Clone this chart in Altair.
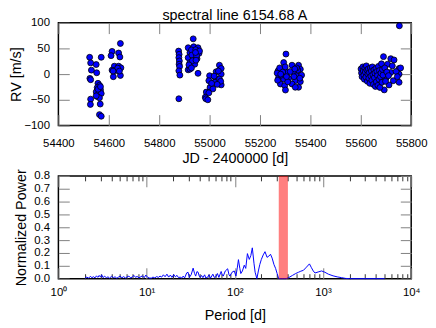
import altair as alt
import pandas as pd

# ---------------- data ----------------
# RV time series (JD - 2400000, RV in m/s)
JD_G1 = [54524, 54528, 54550, 54531, 54552, 54525, 54528, 54570, 54557, 54563,
         54554, 54567, 54550, 54559, 54570, 54554, 54563, 54528, 54527, 54566,
         54563, 54570, 54557, 54567, 54550]
RV_G1 = [32.7, 21.8, 18.6, 7.7, 2.6, -8.3, -10.9, 32.7, -17.9, -21.8,
         -26.3, -30.8, -34.6, -39.1, -37.8, -43.6, -46.2, -48.7, -59.0, -58.3,
         -78.8, -82.0, -29.5, -24.4, -42.3]

JD_G1B = [54646, 54613, 54639, 54609, 54644, 54622, 54639, 54613, 54648, 54618,
          54646, 54629, 54635, 54617, 54642]
RV_G1B = [59.6, 44.2, 41.0, 35.9, 33.3, 15.4, 15.4, 7.7, 12.2, -5.1,
          -2.6, 7.1, 11.5, 5.8, 5.8]

JD_G2 = [54877, 54879, 54878, 54880, 54879, 54881, 54878, 54882, 54878,
         54935, 54915, 54937, 54954, 54922, 54941, 54958, 54915, 54935, 54950,
         54922, 54937, 54925, 54941, 54915, 54922, 54954, 54928, 54945, 54930,
         54948, 54960, 54932, 54946, 54918, 54928, 54944]
RV_G2 = [44.8, 38.5, 32.0, 25.6, 19.2, 14.8, 6.3, -2.0, -48.0,
         68.6, 51.3, 53.2, 51.3, 41.7, 43.0, 40.4, 32.0, 32.0, 30.0,
         22.4, 22.4, 14.7, 19.2, 8.3, 9.6, 1.5, 47.0, 47.5, 37.0,
         36.0, 45.0, 26.0, 27.0, 18.0, 12.0, 42.0]

JD_G2B = [55039, 55046, 55026, 55046, 55000, 55024, 55039, 54997, 55020, 55046,
          55002, 55013, 54987, 54997, 54983, 54985, 54993, 55035, 55044, 55030,
          55008, 55018]
RV_G2B = [17.3, 11.0, 4.5, 0.0, -3.2, -8.3, -9.6, -12.8, -16.0, -21.0,
          -25.6, -28.8, -35.0, -36.5, -44.9, -48.0, -50.0, 6.0, -14.0, -20.0,
          -18.0, -4.0]

JD_G3 = [55303, 55294, 55327, 55353, 55272, 55287, 55307, 55333, 55360, 55346,
         55274, 55294, 55314, 55340, 55360, 55281, 55298, 55327, 55353, 55301,
         55340, 55268, 55278, 55285, 55290, 55300, 55310, 55320, 55335, 55350,
         55365, 55270, 55305, 55345, 55358, 55282, 55338]
RV_G3 = [39.0, 22.5, 17.3, 17.3, 6.4, 9.6, 3.2, 3.2, 9.6, -3.2,
         -6.4, -9.6, -8.0, -12.8, -14.7, -19.2, -22.4, -19.2, -25.6, -31.0,
         -25.6, 2.0, 12.0, -2.0, 4.0, 14.0, -15.0, 5.0, -5.0, 8.0,
         -2.0, -12.0, -5.0, 12.0, -8.0, 0.0, 10.0]

JD_G4 = [55690, 55719, 55732, 55753, 55706, 55725, 55752, 55719, 55752, 55729,
         55752, 55693, 55712, 55700, 55740, 55758, 55745,
         55601, 55603, 55605, 55608, 55610, 55612, 55614, 55616, 55618, 55620,
         55622, 55624, 55626, 55628, 55630, 55632, 55634, 55636, 55638, 55640,
         55642, 55644, 55646, 55648, 55650, 55652, 55654, 55656, 55658, 55660,
         55662, 55664, 55666, 55668, 55670, 55672, 55674, 55676, 55678, 55680,
         55684, 55686, 55688, 55682, 55695, 55698, 55703, 55710]
RV_G4 = [34.0, 30.0, 27.5, 94.0, 19.2, 16.0, 10.9, 3.2, 0.0, -12.8,
         -16.0, -30.7, -21.1, -8.0, 5.0, 12.0, -5.0,
         10.0, 2.0, -5.0, 14.0, 6.0, -2.0, -10.0, 12.0, 4.0, -6.0,
         16.0, 8.0, -14.0, 0.0, 10.0, -8.0, 3.0, -18.0, 12.0, -4.0,
         6.0, -12.0, 14.0, -1.0, -20.0, 8.0, -7.0, 2.0, -24.0, 11.0,
         -15.0, 5.0, -3.0, -22.0, 15.0, -10.0, 7.0, -26.0, -5.0, 2.0,
         -16.0, 9.0, -2.0, 20.0, 12.0, -14.0, 4.0, -3.0]

# periodogram (period in days, normalized power)
PERIOD = [2.0, 2.1, 2.2, 2.3, 2.4, 2.5, 2.6, 2.7, 2.8, 2.9,
          3.0, 3.1, 3.2, 3.35, 3.5, 3.65, 3.8, 4.0, 4.2, 4.4,
          4.6, 4.8, 5.0, 5.25, 5.5, 5.75, 6.0, 6.3, 6.6, 6.9,
          7.2, 7.5, 7.8, 8.2, 8.6, 9.0, 9.4, 9.8, 10.3, 10.8,
          11.3, 11.8, 12.4, 13.0, 13.6, 14.2, 14.8, 15.5, 16.2, 17.0,
          17.8, 18.6, 19.4, 20.3, 21.2, 22.1, 23.0, 24.0, 25.0, 26.0,
          27.0, 28.5, 29.5, 30.5, 32.0, 33.7, 35.0, 36.0, 37.2, 38.4,
          39.5, 40.6, 42.0, 43.5, 45.5, 47.0, 49.0, 51.0, 53.0, 56.4,
          58.5, 61.0, 63.5, 66.0, 70.0, 72.0, 74.0, 78.0, 83.0, 86.0,
          88.0, 93.0, 98.5, 103.0, 107.0, 110.0, 114.0, 117.0, 122.0, 128.0,
          133.0, 139.0, 146.0, 152.0, 158.0, 165.0, 170.0, 178.0, 185.0, 192.0,
          200.0, 210.0, 220.0, 232.0, 243.0, 254.0, 265.0, 278.0, 290.0, 302.0,
          315.0, 335.0, 360.0, 380.0, 408.0, 450.0, 490.0, 528.0, 560.0, 600.0,
          650.0, 702.0, 740.0, 775.0, 812.0, 880.0, 964.0, 1050.0, 1150.0, 1300.0,
          1450.0, 1615.0, 1800.0, 2000.0, 3000.0, 5000.0]
POWER = [0.005, 0.012, 0.004, 0.018, 0.008, 0.015, 0.006, 0.022, 0.010, 0.025,
         0.012, 0.030, 0.008, 0.020, 0.006, 0.015, 0.004, 0.018, 0.009, 0.014,
         0.003, 0.012, 0.020, 0.007, 0.016, 0.005, 0.013, 0.020, 0.006, 0.014,
         0.025, 0.010, 0.018, 0.006, 0.015, 0.022, 0.008, 0.028, 0.010, 0.005,
         0.004, 0.012, 0.006, 0.016, 0.010, 0.020, 0.012, 0.030, 0.015, 0.035,
         0.012, 0.028, 0.010, 0.032, 0.014, 0.026, 0.008, 0.012, 0.005, 0.020,
         0.006, 0.045, 0.050, 0.010, 0.030, 0.082, 0.040, 0.020, 0.055, 0.050,
         0.020, 0.010, 0.025, 0.008, 0.030, 0.005, 0.010, 0.030, 0.004, 0.035,
         0.010, 0.015, 0.040, 0.010, 0.056, 0.030, 0.020, 0.060, 0.077, 0.030,
         0.020, 0.050, 0.060, 0.020, 0.090, 0.148, 0.080, 0.040, 0.060, 0.105,
         0.080, 0.195, 0.150, 0.180, 0.240, 0.120, 0.050, 0.000, 0.060, 0.110,
         0.150, 0.185, 0.210, 0.166, 0.175, 0.190, 0.160, 0.110, 0.080, 0.040,
         0.000, 0.000, 0.000, 0.000, 0.008, 0.025, 0.040, 0.050, 0.058, 0.065,
         0.090, 0.115, 0.085, 0.060, 0.044, 0.052, 0.060, 0.050, 0.035, 0.022,
         0.014, 0.008, 0.002, 0.000, 0.000, 0.000]

BAND_PERIOD = [315, 400]
BAND_POWER = [0.0, 0.8]

X_TICKS_TOP = [54400, 54600, 54800, 55000, 55200, 55400, 55600, 55800]
Y_TICKS_TOP = [-100, -50, 0, 50, 100]
Y_TICKS_BOT = [0.0, 0.1, 0.2, 0.3, 0.4, 0.5, 0.6, 0.7, 0.8]
LOG_TICKS = [1, 2, 3, 4, 5, 6, 7, 8, 9,
             10, 20, 30, 40, 50, 60, 70, 80, 90,
             100, 200, 300, 400, 500, 600, 700, 800, 900,
             1000, 2000, 3000, 4000, 5000, 6000, 7000, 8000, 9000, 10000]

FONT = "Liberation Sans"
W, H = 357, 104
TICK_GREY = "#808080"
PAD = {"left": 0, "top": -3, "right": 0, "bottom": 0}

rv_df = pd.DataFrame({
    "jd": JD_G1 + JD_G1B + JD_G2 + JD_G2B + JD_G3 + JD_G4,
    "rv": RV_G1 + RV_G1B + RV_G2 + RV_G2B + RV_G3 + RV_G4,
})
spec_df = pd.DataFrame({"period": PERIOD, "power": POWER})
band_df = pd.DataFrame({"period": [BAND_PERIOD[0]], "end": [BAND_PERIOD[1]],
                        "power": [BAND_POWER[0]], "hi": [BAND_POWER[1]]})

top = alt.Chart(rv_df).mark_circle(
    size=36, fill="#0000ff", opacity=1, stroke="black", strokeWidth=0.8
).encode(
    x=alt.X("jd:Q",
            scale=alt.Scale(domain=[54400, 55800], nice=False, zero=False),
            axis=alt.Axis(values=X_TICKS_TOP, format="d", title="JD - 2400000 [d]",
                          grid=True, gridDash=[11, 82], gridColor=TICK_GREY, gridWidth=1,
                          ticks=False, tickSize=0, domain=False, labelPadding=12,
                          titlePadding=3, labelFlush=False, labelOverlap=False)),
    y=alt.Y("rv:Q",
            scale=alt.Scale(domain=[-100, 100], nice=False),
            axis=alt.Axis(values=Y_TICKS_TOP, format="d", title="RV [m/s]",
                          grid=True, gridDash=[11, 335], gridColor=TICK_GREY, gridWidth=1,
                          ticks=False, tickSize=0, domain=False, labelPadding=9,
                          titlePadding=0, labelFlush=False, labelOverlap=False)),
).properties(
    width=W, height=H,
    title=alt.TitleParams("spectral line 6154.68 A", frame="group", anchor="middle",
                          offset=-7, fontSize=14.5, font=FONT, fontWeight="normal",
                          color="black"),
)

decade_test = ("datum.value == 1 || datum.value == 10 || datum.value == 100 || "
               "datum.value == 1000 || datum.value == 10000")
label_expr = ("datum.value == 1 ? '10\u2070' : datum.value == 10 ? '10\u00b9' : "
              "datum.value == 100 ? '10\u00b2' : datum.value == 1000 ? '10\u00b3' : "
              "datum.value == 10000 ? '10\u2074' : ''")

x_scale_bot = alt.Scale(type="log", domain=[1, 10000], nice=False)
y_scale_bot = alt.Scale(domain=[0, 0.8], nice=False)
x_axis_bot = alt.Axis(values=LOG_TICKS, labelExpr=label_expr, title="Period [d]",
                      grid=True,
                      gridDash={"condition": {"test": decade_test, "value": [11, 82]},
                                "value": [5, 94]},
                      gridColor={"condition": {"test": decade_test, "value": TICK_GREY},
                                 "value": "#333333"},
                      gridWidth=1, ticks=False, tickSize=0, domain=False,
                      labelPadding=8, titlePadding=11, labelFlush=False,
                      labelOverlap=False)
y_axis_bot = alt.Axis(values=Y_TICKS_BOT, format=".1f", title="Normalized Power",
                      grid=True, gridDash=[11, 335], gridColor=TICK_GREY, gridWidth=1,
                      ticks=False, tickSize=0, domain=False, labelPadding=9,
                      titlePadding=5.5, labelFlush=False, labelOverlap=False)

line = alt.Chart(spec_df).mark_line(color="#0000ff", strokeWidth=1).encode(
    x=alt.X("period:Q", scale=x_scale_bot, axis=x_axis_bot),
    y=alt.Y("power:Q", scale=y_scale_bot, axis=y_axis_bot),
)

band = alt.Chart(band_df).mark_rect(color="#ff0000", opacity=0.5).encode(
    x=alt.X("period:Q", scale=x_scale_bot, axis=x_axis_bot), x2="end:Q",
    y=alt.Y("power:Q", scale=y_scale_bot, axis=y_axis_bot), y2="hi:Q",
)

bottom = alt.layer(line, band).properties(width=W, height=H)

chart = alt.vconcat(top, bottom, spacing=51, bounds="flush").properties(
    padding=PAD
).configure(
    padding=PAD
).configure_view(
    stroke="black", strokeWidth=1.5
).configure_axis(
    labelFont=FONT, titleFont=FONT, labelFontSize=11.5, titleFontSize=14.5,
    labelColor="black", titleColor="black", titleFontWeight="normal"
)

chart.save("out.html", embed_options={"renderer": "svg", "actions": False})
